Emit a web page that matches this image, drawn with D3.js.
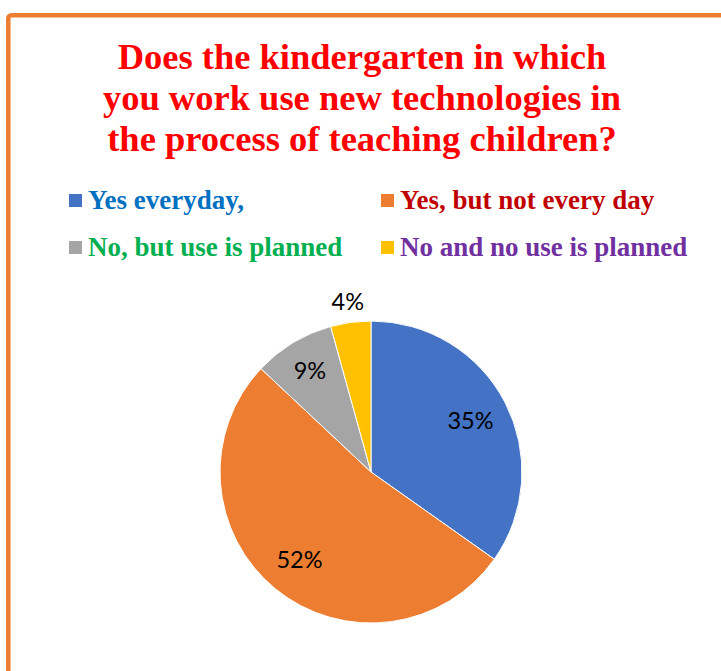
<!DOCTYPE html>
<html><head><meta charset="utf-8">
<script src="https://cdn.jsdelivr.net/npm/d3@7"></script>
<style>html,body{margin:0;padding:0;background:#fff;}svg{display:block;}</style>
</head><body>
<svg id="chart" width="721" height="671"></svg>
<script>
const titleLines = ["Does the kindergarten in which", "you work use new technologies in", "the process of teaching children?"];
const categories = ["Yes everyday,", "Yes, but not every day", "No, but use is planned", "No and no use is planned"];
const values = [34.8, 52.2, 8.7, 4.3];
const labels = ["35%", "52%", "9%", "4%"];
const sliceColors = ["#4472C4", "#ED7D31", "#A5A5A5", "#FFC000"];
const legendTextColors = ["#0070C0", "#C00000", "#00B050", "#7030A0"];

const svg = d3.select("#chart");

// frame
svg.append("rect").attr("x", 8.3).attr("y", 15.2).attr("width", 800).attr("height", 800)
  .attr("rx", 3).attr("fill", "none").attr("stroke", "#ED7D31").attr("stroke-width", 4.5);

// title
svg.append("g").selectAll("text").data(titleLines).join("text")
  .attr("x", 362).attr("y", (d, i) => 69 + i * 41)
  .attr("text-anchor", "middle")
  .attr("font-family", "'Liberation Serif', 'Times New Roman', serif")
  .attr("font-weight", "bold").attr("font-size", 36.5).attr("fill", "#FF0000")
  .text(d => d);

// legend
const legX = [69, 381], legY = [193, 240];
const leg = svg.append("g").selectAll("g").data(categories).join("g")
  .attr("transform", (d, i) => `translate(${legX[i % 2]},${legY[Math.floor(i / 2)]})`);
leg.append("rect").attr("width", 13).attr("height", 13).attr("y", 1)
  .attr("fill", (d, i) => sliceColors[i]);
leg.append("text").attr("x", 19).attr("y", 16)
  .attr("font-family", "'Liberation Serif', 'Times New Roman', serif")
  .attr("font-weight", "bold").attr("font-size", 27)
  .attr("fill", (d, i) => legendTextColors[i])
  .text(d => d);

// pie
const cx = 371, cy = 472, R = 151;
const pie = d3.pie().sort(null).value(d => d);
const arcs = pie(values);
const arc = d3.arc().innerRadius(0).outerRadius(R);
const g = svg.append("g").attr("transform", `translate(${cx},${cy})`);
g.selectAll("path").data(arcs).join("path")
  .attr("d", arc).attr("fill", (d, i) => sliceColors[i])
  .attr("stroke", "#fff").attr("stroke-width", 1);

const labelR = [112, 113, 118, 172];
g.selectAll("text").data(arcs).join("text")
  .attr("transform", (d, i) => {
    const a = d3.arc().innerRadius(labelR[i]).outerRadius(labelR[i]);
    const [x, y] = a.centroid(d);
    return `translate(${x},${y})`;
  })
  .attr("text-anchor", "middle").attr("dy", "0.36em")
  .attr("font-family", "Lato, 'Open Sans', sans-serif")
  .attr("font-size", 23.5).attr("fill", "#000")
  .text((d, i) => labels[i]);
</script>
</body></html>
